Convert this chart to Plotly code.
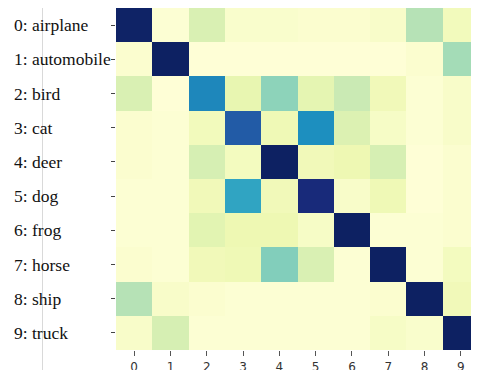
import plotly.graph_objects as go

classes = ["0: airplane", "1: automobile", "2: bird", "3: cat", "4: deer",
           "5: dog", "6: frog", "7: horse", "8: ship", "9: truck"]
x_ticks = ["0", "1", "2", "3", "4", "5", "6", "7", "8", "9"]

row_airplane   = [0.97, 0.02, 0.19, 0.04, 0.04, 0.03, 0.03, 0.05, 0.28, 0.09]
row_automobile = [0.03, 0.98, 0.01, 0.01, 0.01, 0.01, 0.01, 0.01, 0.03, 0.31]
row_bird       = [0.19, 0.01, 0.65, 0.14, 0.35, 0.15, 0.24, 0.10, 0.02, 0.05]
row_cat        = [0.03, 0.02, 0.09, 0.76, 0.11, 0.63, 0.18, 0.06, 0.02, 0.05]
row_deer       = [0.03, 0.02, 0.20, 0.08, 0.98, 0.10, 0.12, 0.20, 0.01, 0.03]
row_dog        = [0.02, 0.02, 0.10, 0.56, 0.10, 0.93, 0.05, 0.11, 0.01, 0.03]
row_frog       = [0.02, 0.02, 0.16, 0.12, 0.12, 0.06, 0.98, 0.02, 0.02, 0.03]
row_horse      = [0.03, 0.02, 0.10, 0.11, 0.37, 0.19, 0.02, 0.98, 0.02, 0.08]
row_ship       = [0.28, 0.05, 0.03, 0.02, 0.02, 0.02, 0.02, 0.03, 0.98, 0.10]
row_truck      = [0.05, 0.20, 0.02, 0.02, 0.02, 0.02, 0.02, 0.06, 0.04, 0.98]

z = [row_airplane, row_automobile, row_bird, row_cat, row_deer,
     row_dog, row_frog, row_horse, row_ship, row_truck]

ylgnbu = [
    [0.0, "#ffffd9"], [0.125, "#edf8b1"], [0.25, "#c7e9b4"], [0.375, "#7fcdbb"],
    [0.5, "#41b6c4"], [0.625, "#1d91c0"], [0.75, "#225ea8"], [0.875, "#253494"],
    [1.0, "#081d58"],
]

idx = list(range(len(classes)))

fig = go.Figure(go.Heatmap(
    z=z, x=idx, y=idx, colorscale=ylgnbu, zmin=0, zmax=1, showscale=False,
))

# page body has an 8px margin; size the figure so the plot lands where the reference has it
OFF = 8
W, H = 479 - OFF, 370 - OFF
L, R, T, B = 116 - OFF, 0, 8 - OFF, 20
pw, ph = W - L - R, H - T - B

annotations = []
for i, name in enumerate(classes):
    annotations.append(dict(
        text=name, xref="paper", yref="y", x=(12 - 116) / pw, y=i,
        xanchor="left", yanchor="middle", showarrow=False,
        font=dict(family="Liberation Serif, Times New Roman, serif", size=17.5, color="#111"),
    ))

fig.update_layout(
    width=W, height=H,
    margin=dict(l=L, r=R, t=T, b=B, autoexpand=False),
    paper_bgcolor="white", plot_bgcolor="white",
    xaxis=dict(tickvals=idx, ticktext=x_ticks, ticks="outside", ticklen=5,
               tickcolor="#555", tickwidth=1, showgrid=False, zeroline=False,
               showline=False, range=[-0.5, 9.5], automargin=False,
               ticklabelstandoff=1,
               tickfont=dict(family="DejaVu Sans", size=12, color="#333")),
    yaxis=dict(tickvals=idx, ticktext=[""] * len(idx), ticks="outside", ticklen=4,
               tickcolor="#444", tickwidth=1, showgrid=False, zeroline=False,
               showline=False, range=[9.5, -0.5], automargin=False),
    annotations=annotations,
    shapes=[dict(type="line", xref="paper", yref="paper",
                 x0=(42.5 - 116) / pw, x1=(42.5 - 116) / pw,
                 y0=-B / ph, y1=1 + (T + OFF) / ph,
                 line=dict(color="#d9d9d9", width=1))],
)

fig.write_html("out.html")
